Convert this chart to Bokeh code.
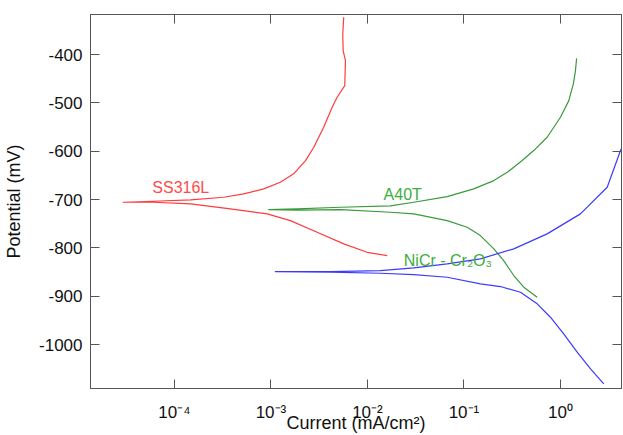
from bokeh.plotting import figure
from bokeh.models import Range1d, FixedTicker, CustomJSTickFormatter, LogAxis, LinearAxis, Label
from bokeh.embed import file_html
from bokeh.resources import INLINE

# ---- data (current in mA/cm^2, potential in mV) ----
ss_cat_i = [1.60e-2, 9.93e-3, 5.68e-3, 3.01e-3, 1.59e-3, 9.14e-4, 3.80e-4, 1.47e-4, 6.10e-5, 2.94e-5]
ss_cat_e = [-815.9, -809.1, -791.7, -767.7, -743.5, -729.6, -719.2, -708.9, -705.6, -705.6]
ss_an_i = [2.94e-5, 6.10e-5, 1.47e-4, 3.24e-4, 5.22e-4, 8.41e-4, 1.25e-3, 1.72e-3, 2.28e-3,
           2.78e-3, 3.52e-3, 4.31e-3, 4.85e-3, 5.82e-3, 5.92e-3, 5.60e-3, 5.55e-3, 5.68e-3]
ss_an_e = [-705.6, -703.5, -700.6, -695.2, -688.2, -677.9, -664.2, -646.8, -619.3,
           -591.8, -550.4, -509.0, -488.3, -464.1, -412.4, -391.7, -357.2, -322.8]

a40_cat_i = [0.574, 0.417, 0.328, 0.258, 0.204, 0.148, 0.108, 6.70e-2, 3.02e-2, 1.73e-2, 5.25e-3, 1.87e-3, 9.48e-4]
a40_cat_e = [-902.1, -881.4, -857.2, -826.2, -802.0, -774.5, -757.3, -743.5, -729.6, -726.3, -721.0, -721.7, -720.7]
a40_an_i = [9.48e-4, 1.87e-3, 5.25e-3, 1.73e-2, 3.02e-2, 6.70e-2, 0.126, 0.204, 0.289,
            0.401, 0.528, 0.728, 1.0, 1.22, 1.36, 1.43, 1.47]
a40_an_e = [-720.7, -719.2, -715.9, -713.0, -705.6, -693.8, -677.9, -660.7, -642.1,
            -619.3, -598.6, -571.1, -529.7, -495.2, -460.6, -433.1, -407.7]

nc_cat_i = [2.81, 2.05, 1.49, 1.08, 0.787, 0.574, 0.385, 0.239, 0.148, 6.70e-2, 3.02e-2, 1.36e-2, 4.14e-3, 1.11e-3]
nc_cat_e = [-1081.3, -1050.3, -1015.9, -977.9, -943.5, -915.8, -891.8, -880.0, -874.4, -860.8, -855.2, -852.5, -850.0, -849.0]
nc_an_i = [1.11e-3, 4.14e-3, 1.36e-2, 3.02e-2, 6.70e-2, 0.148, 0.328, 0.728, 1.61, 3.05, 4.19, 5.07]
nc_an_e = [-849.0, -849.0, -846.9, -841.3, -833.0, -822.7, -802.0, -771.0, -729.6, -674.6, -598.6, -567.6]

x_ticks = [1e-4, 1e-3, 1e-2, 1e-1, 1e0]
y_ticks = [-1000, -900, -800, -700, -600, -500, -400]

labels = ["SS316L", "A40T", "NiCr - Cr\u2082O\u2083"]
label_i = [5.9e-5, 1.47e-2, 2.38e-2]
label_e = [-674.0, -688.6, -826.2]
label_colors = ["#ff4a4a", "#3cae3c", "#3cae3c"]

FONT = "Liberation Sans"
AX = "#555555"

p = figure(width=623, height=435, x_axis_type="log",
           x_range=Range1d(1.35e-5, 4.29), y_range=Range1d(-1091, -317),
           output_backend="svg", toolbar_location=None,
           min_border_left=90, min_border_right=2, min_border_top=14, min_border_bottom=47)
p.grid.visible = False
p.outline_line_color = AX

sup_js = """
const s = {"-":"\u207b","0":"\u2070","1":"\u00b9","2":"\u00b2","3":"\u00b3","4":"\u2074",
           "5":"\u2075","6":"\u2076","7":"\u2077","8":"\u2078","9":"\u2079"};
const e = Math.round(Math.log10(tick));
return "10" + String(e).split("").map(c => s[c]).join("");
"""

xa = p.xaxis[0]
xa.ticker = FixedTicker(ticks=x_ticks, minor_ticks=[])
xa.formatter = CustomJSTickFormatter(code=sup_js)
xa.major_label_text_font = FONT
xa.major_label_text_font_size = "17px"
xa.major_label_text_color = "#111111"
xa.major_label_standoff = 14
xa.major_tick_in = 9
xa.major_tick_out = 0
xa.minor_tick_in = 0
xa.minor_tick_out = 0
xa.axis_line_color = AX
xa.major_tick_line_color = AX
xa.axis_label = "Current (mA/cm\u00b2)"
xa.axis_label_text_font = FONT
xa.axis_label_text_font_size = "18px"
xa.axis_label_text_font_style = "normal"
xa.axis_label_text_color = "#111111"
xa.axis_label_standoff = -12

ya = p.yaxis[0]
ya.ticker = FixedTicker(ticks=y_ticks, minor_ticks=[])
ya.formatter = CustomJSTickFormatter(code="return tick.toFixed(0);")
ya.major_label_text_font = FONT
ya.major_label_text_font_size = "17px"
ya.major_label_text_color = "#111111"
ya.major_label_standoff = 8
ya.major_tick_in = 9
ya.major_tick_out = 0
ya.minor_tick_in = 0
ya.minor_tick_out = 0
ya.axis_line_color = AX
ya.major_tick_line_color = AX
ya.axis_label = "Potential (mV)"
ya.axis_label_text_font = FONT
ya.axis_label_text_font_size = "18px"
ya.axis_label_text_font_style = "normal"
ya.axis_label_text_color = "#111111"
ya.axis_label_standoff = 12

top = LogAxis(ticker=FixedTicker(ticks=x_ticks, minor_ticks=[]),
              major_label_text_font_size="1px", major_label_text_alpha=0, major_label_standoff=0,
              major_tick_in=9, major_tick_out=0, minor_tick_in=0, minor_tick_out=0,
              axis_line_color=AX, major_tick_line_color=AX)
p.add_layout(top, "above")
right = LinearAxis(ticker=FixedTicker(ticks=y_ticks, minor_ticks=[]),
                   major_label_text_font_size="1px", major_label_text_alpha=0, major_label_standoff=0,
                   major_tick_in=9, major_tick_out=0, minor_tick_in=0, minor_tick_out=0,
                   axis_line_color=AX, major_tick_line_color=AX)
p.add_layout(right, "right")

p.line(ss_cat_i + ss_an_i, ss_cat_e + ss_an_e, line_color="#ff3b3b", line_width=1.2, line_join="round")
p.line(a40_cat_i + a40_an_i, a40_cat_e + a40_an_e, line_color="#3a9a3a", line_width=1.2, line_join="round")
p.line(nc_cat_i + nc_an_i, nc_cat_e + nc_an_e, line_color="#3b3bff", line_width=1.2, line_join="round")

for t, xi, ei, c in zip(labels, label_i, label_e, label_colors):
    p.add_layout(Label(x=xi, y=ei, text=t, text_color=c, text_font=FONT,
                       text_font_size="16px", text_baseline="middle", text_align="left"))

open("out.html", "w").write(file_html(p, INLINE))
